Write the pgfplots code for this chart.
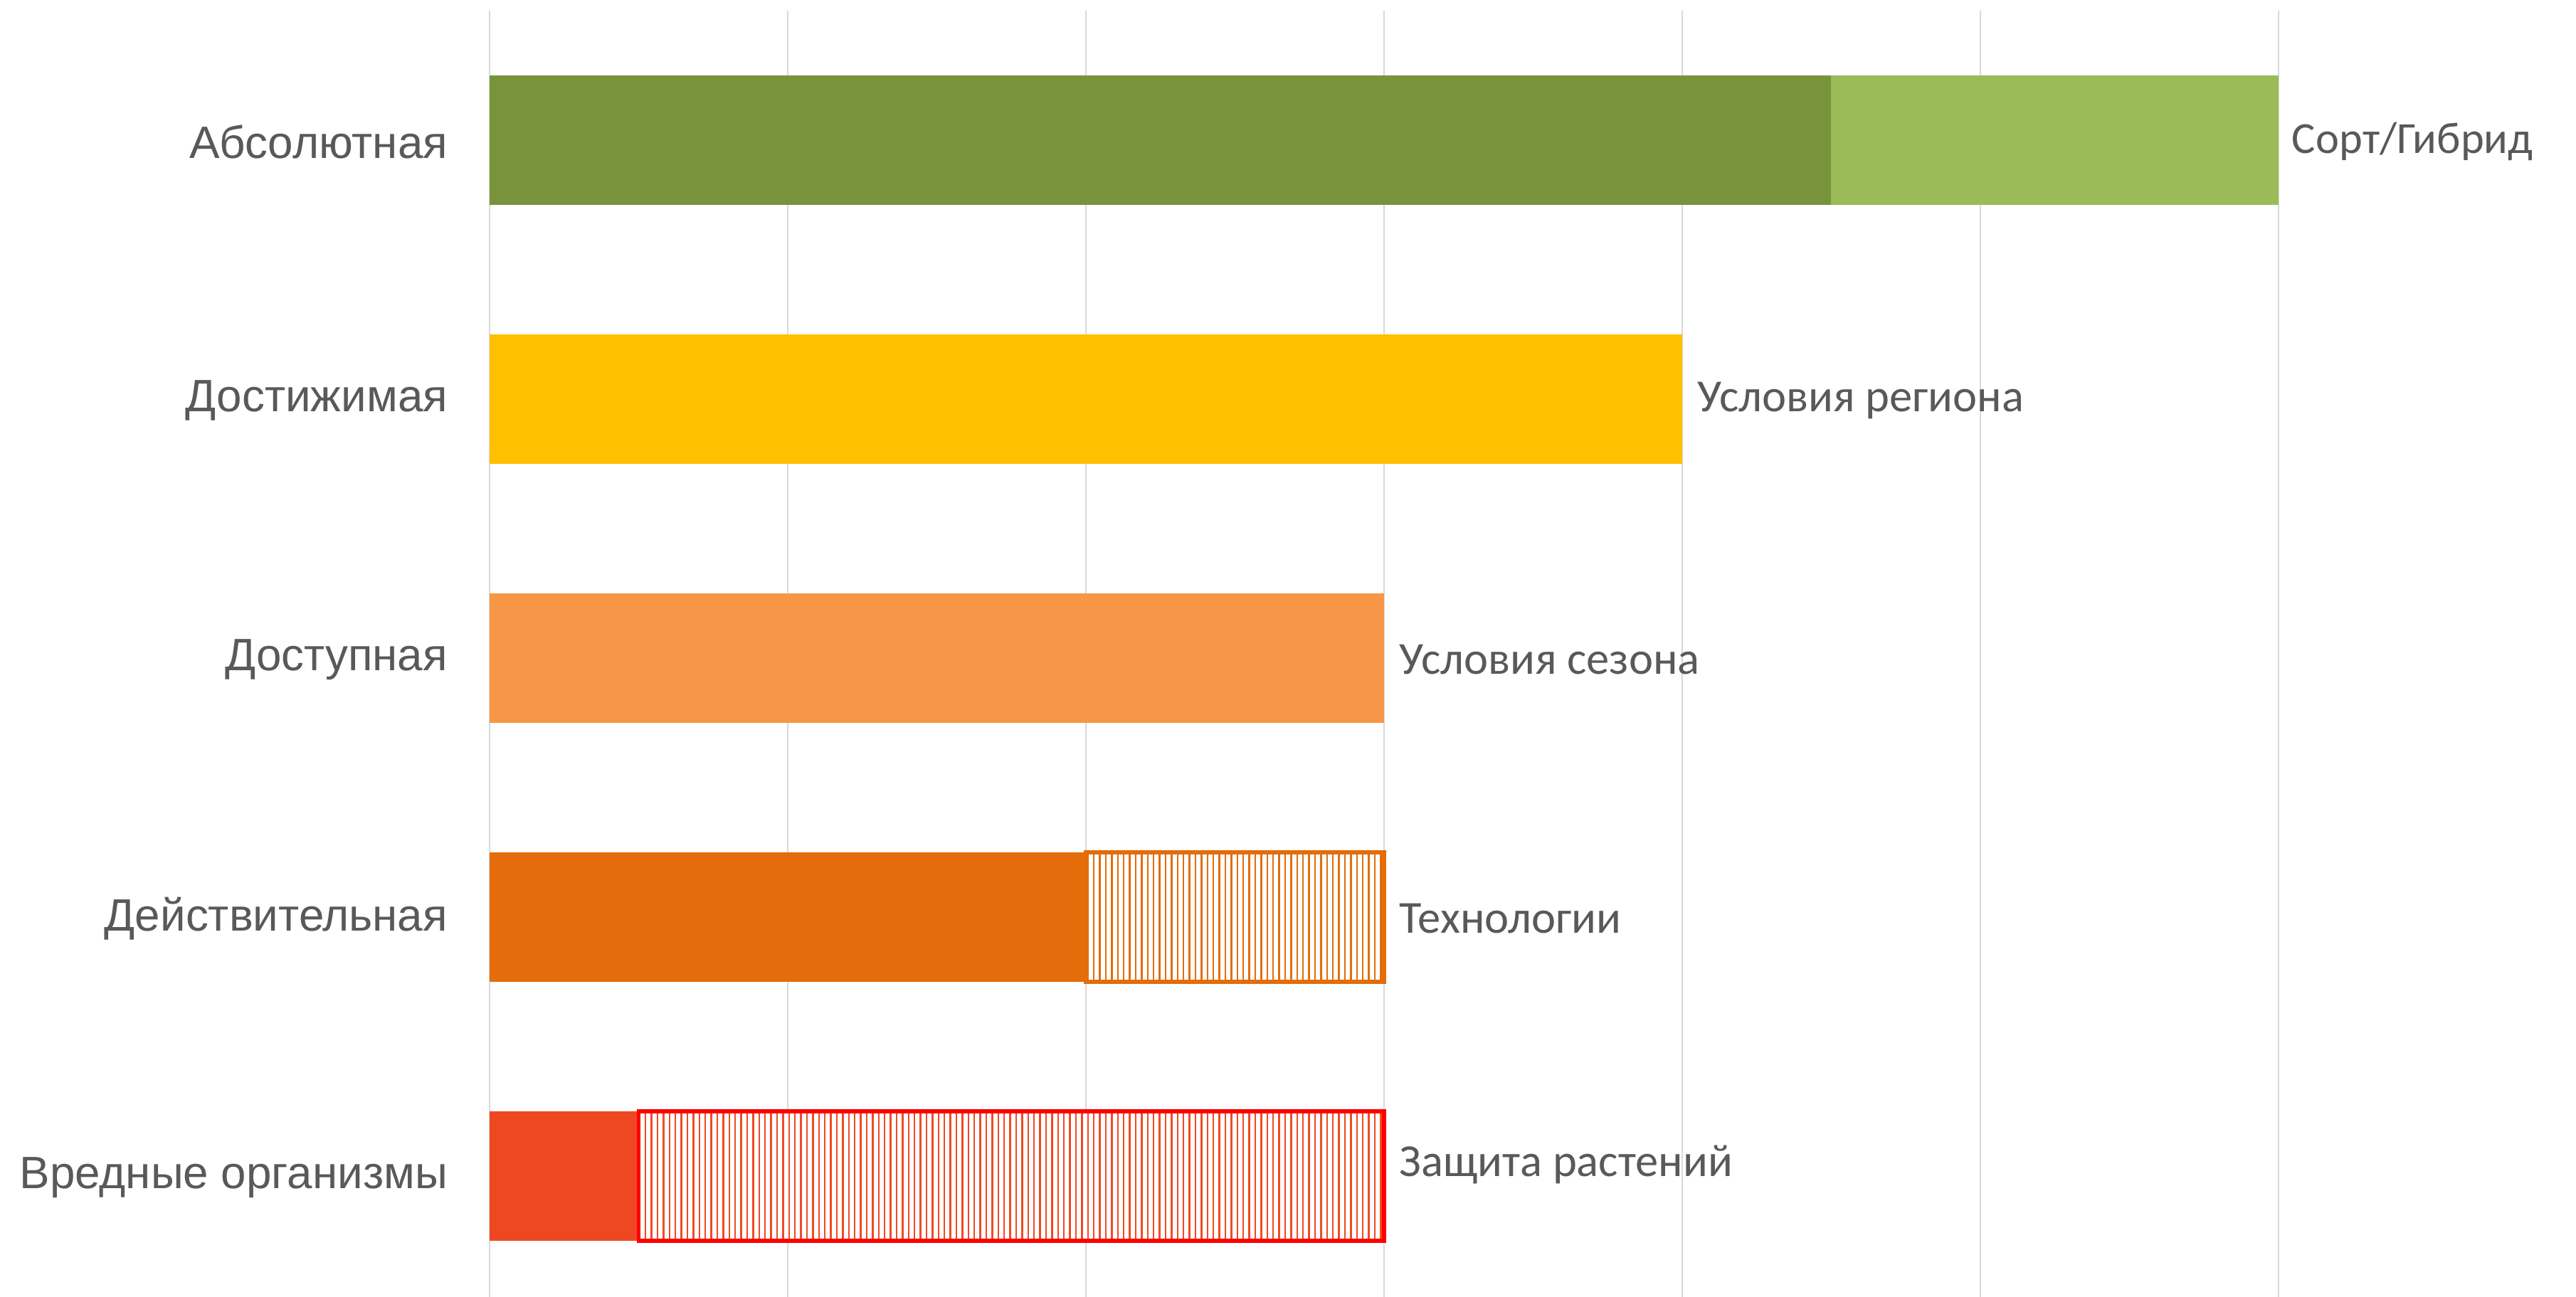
\documentclass[border=0pt]{standalone}
\usepackage{pgfplots}
\pgfplotsset{compat=1.18}
\usepackage{fontspec}
\setmainfont{Liberation Sans}
\newfontfamily\calibri{Carlito}
\usetikzlibrary{patterns.meta}

\definecolor{dgreen}{HTML}{77933C}
\definecolor{lgreen}{HTML}{9BBB59}
\definecolor{cyellow}{HTML}{FFC000}
\definecolor{lorange}{HTML}{F79646}
\definecolor{dorange}{HTML}{E46C0A}
\definecolor{redor}{HTML}{EE4822}
\definecolor{hatchred}{HTML}{F04A23}
\definecolor{bordred}{HTML}{FF0000}
\definecolor{lbl}{HTML}{595959}
\definecolor{gridc}{HTML}{D9D9D9}

\begin{document}
\begin{tikzpicture}
\useasboundingbox (-137.6pt,0pt) rectangle (586.4pt,364.6pt);
\begin{axis}[
  at={(0pt,0pt)}, anchor=south west,
  scale only axis,
  width=502.8pt, height=361.6pt,
  xmin=0, xmax=6, ymin=-0.467, ymax=4.5,
  xtick={0,1,2,3,4,5,6}, xticklabels={},
  ytick={0,1,2,3,4},
  yticklabels={Вредные организмы, Действительная, Доступная, Достижимая, Абсолютная},
  xmajorgrids,
  major grid style={draw=gridc, line width=0.4pt},
  axis line style={draw=none},
  tick style={draw=none},
  yticklabel style={font=\fontsize{12.75}{14}\selectfont, text=lbl, inner sep=0pt, xshift=-11.6pt, yshift=-0.4pt},
  mybar/.style={xbar, bar width=36.4pt, bar shift=0pt},
  every node near coord/.append style={anchor=west, inner sep=0pt, xshift=4.2pt, yshift=-0.4pt,
     font=\calibri\fontsize{12.9}{14}\selectfont, text=lbl},
  hatch/.style={preaction={fill=white},
     pattern={Lines[angle=90,distance=1.68pt,line width=0.5pt]}},
]
% Абсолютная
\addplot[mybar, fill=lgreen, draw=none, nodes near coords={Сорт/Гибрид},
  every node near coord/.append style={xshift=-0.6pt, font=\calibri\fontsize{12.5}{14}\selectfont}] coordinates {(6,4)};
\addplot[mybar, fill=dgreen, draw=none] coordinates {(4.5,4)};
% Достижимая
\addplot[mybar, fill=cyellow, draw=none, nodes near coords={Условия региона}] coordinates {(4,3)};
% Доступная
\addplot[mybar, fill=lorange, draw=none, nodes near coords={Условия сезона}] coordinates {(3,2)};
% Действительная
\addplot[mybar, fill=dorange, draw=none] coordinates {(2,1)};
\addplot[hatch, pattern color=dorange, draw=dorange, line width=1.2pt]
  coordinates {(2,0.75) (3,0.75) (3,1.25) (2,1.25)} -- cycle;
\addplot[mybar, fill=none, draw=none, nodes near coords={Технологии}] coordinates {(3,1)};
% Вредные организмы
\addplot[mybar, fill=redor, draw=none] coordinates {(0.5,0)};
\addplot[hatch, pattern color=hatchred, draw=bordred, line width=1.1pt]
  coordinates {(0.5,-0.25) (3,-0.25) (3,0.25) (0.5,0.25)} -- cycle;
\addplot[mybar, fill=none, draw=none, nodes near coords={Защита растений},
  every node near coord/.append style={yshift=3.6pt}] coordinates {(3,0)};
\end{axis}
\end{tikzpicture}
\end{document}
